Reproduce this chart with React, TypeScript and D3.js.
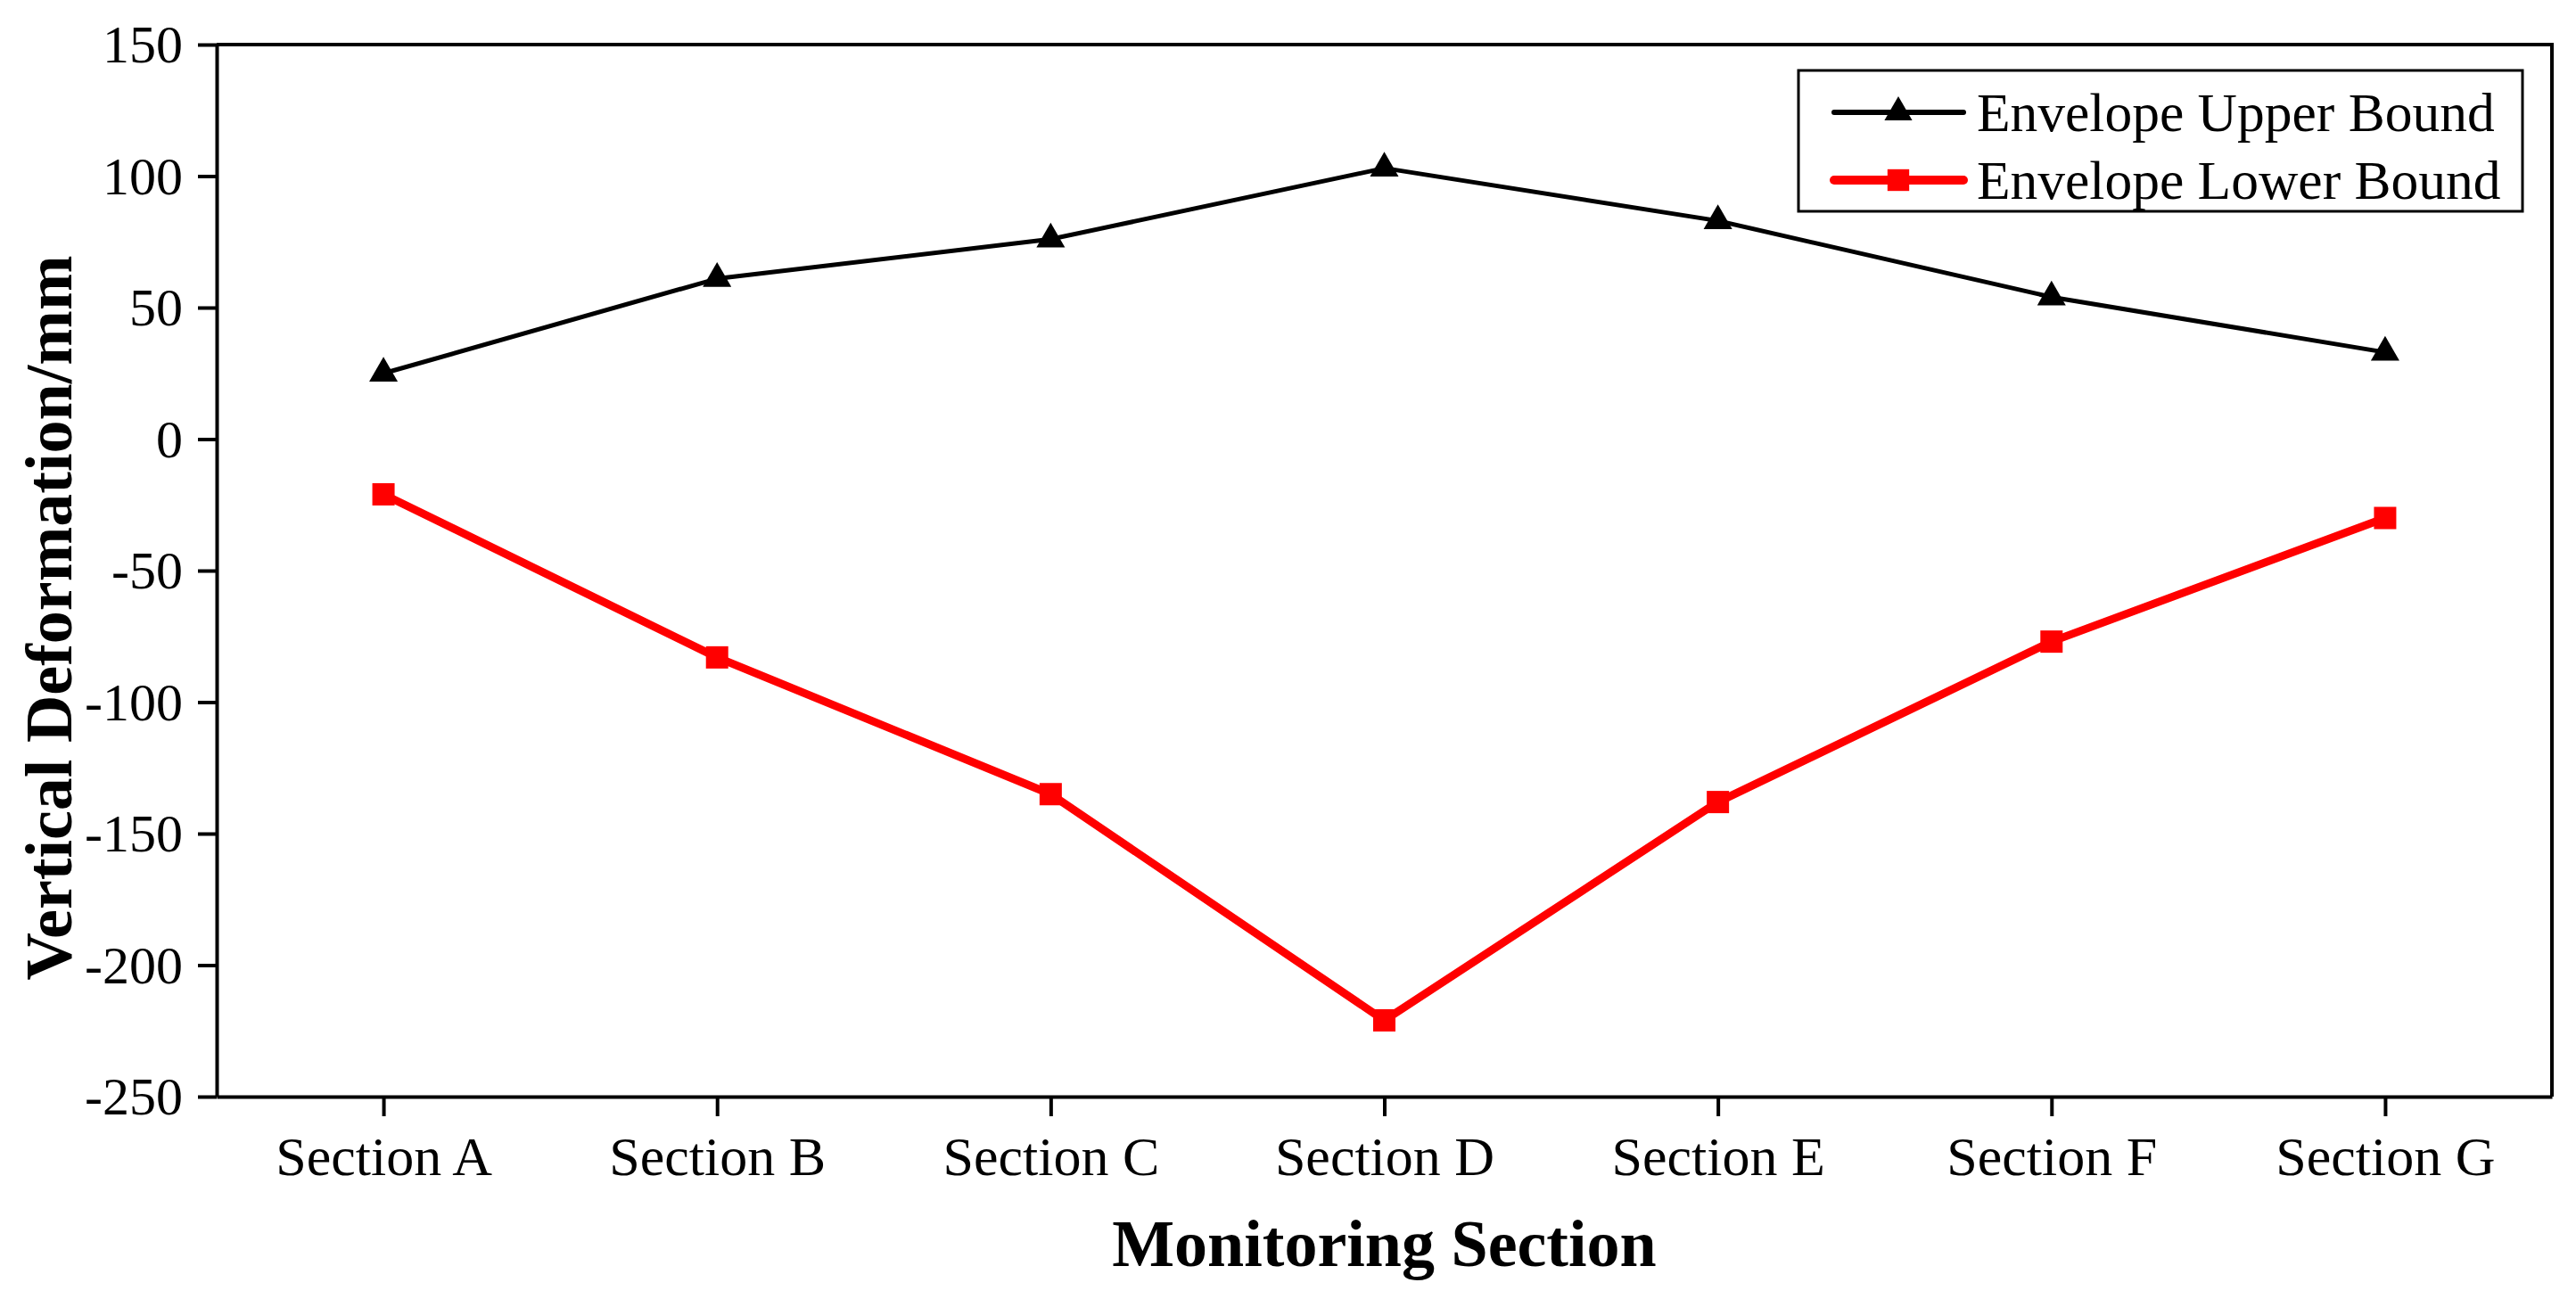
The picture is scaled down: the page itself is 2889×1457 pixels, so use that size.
import React, { useRef, useEffect } from 'react';
import * as d3 from 'd3';

const sections = ['Section A', 'Section B', 'Section C', 'Section D', 'Section E', 'Section F', 'Section G'];
const upperBound = [25, 61, 76, 103, 83, 54, 33];
const lowerBound = [-21, -83, -135, -221, -138, -77, -30];
const yTicks = [-250, -200, -150, -100, -50, 0, 50, 100, 150];

const W = 2889;
const H = 1457;
const FONT = '"Liberation Serif", "Times New Roman", serif';

const App: React.FC = () => {
  const svgRef = useRef<SVGSVGElement>(null);

  useEffect(() => {
    if (!svgRef.current) return;
    const svg = d3.select(svgRef.current);
    svg.selectAll('*').remove();

    const margin = { top: 50, right: 27, bottom: 227, left: 243 };
    const width = W - margin.left - margin.right;
    const height = H - margin.top - margin.bottom;

    const g = svg.append('g').attr('transform', `translate(${margin.left},${margin.top})`);

    const x = d3.scalePoint<string>().domain(sections).range([0, width]).padding(0.5);
    const y = d3.scaleLinear().domain([-250, 150]).range([height, 0]);

    // top and right frame
    g.append('path')
      .attr('d', `M0,0H${width}V${height}`)
      .attr('fill', 'none')
      .attr('stroke', '#000')
      .attr('stroke-width', 4);

    const xAxis = g.append('g')
      .attr('transform', `translate(0,${height})`)
      .call(d3.axisBottom(x).tickSize(22).tickSizeOuter(0).tickPadding(22));
    xAxis.selectAll('text')
      .attr('fill', '#000')
      .style('font-family', FONT)
      .style('font-size', '62px');

    const yAxis = g.append('g')
      .call(d3.axisLeft(y).tickValues(yTicks).tickFormat((d) => String(d)).tickSize(21).tickSizeOuter(0).tickPadding(17));
    yAxis.selectAll('text')
      .attr('fill', '#000')
      .attr('dy', '0.33em')
      .style('font-family', FONT)
      .style('font-size', '60px');

    svg.selectAll('path.domain').attr('stroke', '#000').attr('stroke-width', 4);
    svg.selectAll('.tick line').attr('stroke', '#000').attr('stroke-width', 4);

    const series = [
      { name: 'Envelope Upper Bound', values: upperBound, color: '#000000', width: 5, symbol: d3.symbolTriangle, size: 444 },
      { name: 'Envelope Lower Bound', values: lowerBound, color: '#ff0000', width: 9, symbol: d3.symbolSquare, size: 625 },
    ];

    series.forEach((s) => {
      const line = d3.line<number>()
        .x((_, i) => x(sections[i]) as number)
        .y((d) => y(d));
      g.append('path')
        .datum(s.values)
        .attr('fill', 'none')
        .attr('stroke', s.color)
        .attr('stroke-width', s.width)
        .attr('stroke-linejoin', 'round')
        .attr('d', line);
      g.selectAll(null)
        .data(s.values)
        .enter()
        .append('path')
        .attr('transform', (d, i) => `translate(${x(sections[i])},${y(d)})`)
        .attr('d', d3.symbol().type(s.symbol).size(s.size)())
        .attr('fill', s.color);
    });

    // axis titles
    svg.append('text')
      .attr('x', margin.left + width / 2)
      .attr('y', 1420)
      .attr('text-anchor', 'middle')
      .style('font-family', FONT)
      .style('font-size', '74px')
      .style('font-weight', 'bold')
      .text('Monitoring Section');

    svg.append('text')
      .attr('transform', 'translate(80,693) rotate(-90)')
      .attr('text-anchor', 'middle')
      .style('font-family', FONT)
      .style('font-size', '74px')
      .style('font-weight', 'bold')
      .text('Vertical Deformation/mm');

    // Legend
    const legend = svg.append('g').attr('transform', 'translate(2017,79)');
    legend.append('rect')
      .attr('width', 812)
      .attr('height', 158)
      .attr('fill', '#fff')
      .attr('stroke', '#000')
      .attr('stroke-width', 3);

    series.forEach((s, i) => {
      const item = legend.append('g').attr('transform', `translate(0,${47 + i * 76})`);
      item.append('line')
        .attr('x1', 40)
        .attr('x2', 185)
        .attr('stroke', s.color)
        .attr('stroke-width', s.width + 1)
        .attr('stroke-linecap', 'round');
      item.append('path')
        .attr('transform', 'translate(112,0)')
        .attr('d', d3.symbol().type(s.symbol).size(s.size * 0.95)())
        .attr('fill', s.color);
      item.append('text')
        .attr('x', 200)
        .attr('y', 21)
        .style('font-family', FONT)
        .style('font-size', '61.5px')
        .attr('fill', '#000')
        .text(s.name);
    });
  }, []);

  return (
    <svg
      ref={svgRef}
      width={W}
      height={H}
      style={{ position: 'absolute', left: 0, top: 0, background: '#fff' }}
    ></svg>
  );
};

export default App;
